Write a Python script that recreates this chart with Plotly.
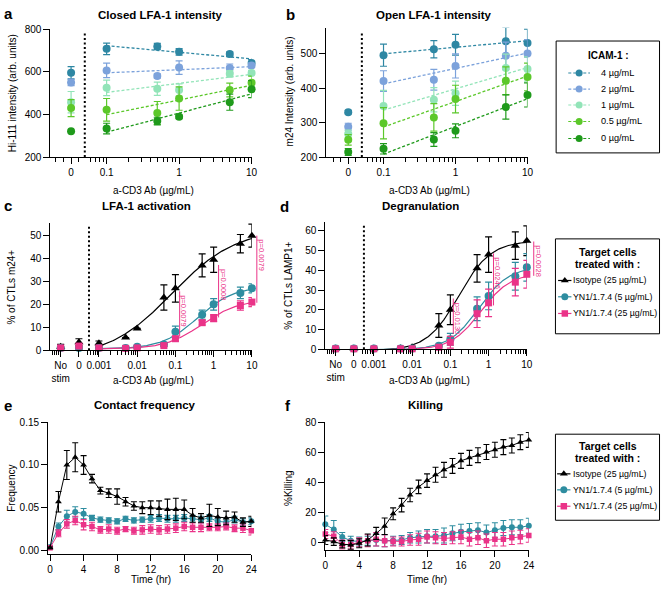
import numpy as np
import plotly.graph_objects as go

W, H = 667, 593
FONT = "Liberation Sans, Arial, Helvetica, sans-serif"

# ---------------- data : panels a / b ----------------
icam_labels = ["4 µg/mL", "2 µg/mL", "1 µg/mL", "0.5 µg/mL", "0 µg/mL"]
icam_colors = ["#2E87A3", "#7CA2DB", "#92E4B8", "#5CC82A", "#1F9A1B"]
conc_ab = [0, 0.1, 0.5, 1, 5, 10]

closed_4 = [596, 708, 719, 694, 684, 642]
closed_2 = [550, 607, 581, 620, 618, 630]
closed_1 = [458, 525, 521, 515, 591, 595]
closed_05 = [430, 422, 407, 475, 515, 549]
closed_0 = [321, 334, 369, 389, 458, 519]
closed_4_err = [29, 27, 15, 15, 10, 15]
closed_2_err = [15, 34, 10, 32, 19, 12]
closed_1_err = [50, 36, 31, 29, 15, 12]
closed_05_err = [40, 53, 54, 55, 32, 31]
closed_0_err = [0, 25, 18, 8, 38, 40]

open_4 = [330, 495, 512, 525, 535, 530]
open_2 = [288, 420, 424, 464, 493, 500]
open_1 = [268, 348, 366, 385, 458, 455]
open_05 = [250, 298, 315, 368, 421, 432]
open_0 = [215, 224, 251, 276, 345, 380]
open_4_err = [5, 32, 25, 30, 40, 40]
open_2_err = [10, 30, 30, 35, 40, 40]
open_1_err = [10, 45, 35, 35, 40, 35]
open_05_err = [15, 45, 40, 40, 40, 40]
open_0_err = [10, 15, 20, 20, 35, 35]

# ---------------- data : panels c / d ----------------
target_labels = ["Isotype (25 µg/mL)", "YN1/1.7.4 (5 µg/mL)", "YN1/1.7.4 (25 µg/mL)"]
target_colors = ["#000000", "#2E8DA0", "#EA3388"]
target_symbols = ["triangle-up", "circle", "square"]
conc_cd = ["No stim", 0, 0.001, 0.005, 0.01, 0.05, 0.1, 0.5, 1, 5, 10]

act_iso = [1.5, 3.5, 3, 5.5, 9.5, 23, 27, 37, 39.5, 46.5, 50]
act_iso_err = [1, 1.5, 1, 0, 0, 5.5, 6, 5, 5.5, 4, 5]
act_yn5 = [1, 1, 1, 1, 1.5, 2.5, 8, 15.5, 20, 25, 27]
act_yn5_err = [0.5, 0.5, 0.5, 0.5, 0.5, 0.8, 2.5, 2, 2.5, 2.5, 2]
act_yn25 = [1, 1.8, 1, 0.8, 1, 2, 5, 12, 14, 19.5, 21]
act_yn25_err = [0.5, 0.5, 0.5, 0.5, 0.5, 0.5, 1, 1, 1.5, 2, 2]

deg_iso = [0.3, 0.3, 0.3, 0.5, 1, 12, 20, 41, 48, 52.5, 55]
deg_iso_err = [0.3, 0.3, 0.3, 0.3, 0.5, 6, 7.5, 7, 9, 7, 7.5]
deg_yn5 = [0.3, 0.3, 0.3, 0.3, 0.3, 1.7, 5, 20.5, 27, 37, 41.5]
deg_yn5_err = [0.2, 0.2, 0.2, 0.2, 0.2, 0.5, 3, 6, 7, 7, 7]
deg_yn25 = [0.2, 0.2, 0.2, 0.2, 0.2, 1, 3.5, 18, 23.5, 34, 38]
deg_yn25_err = [0.2, 0.2, 0.2, 0.2, 0.2, 0.5, 3, 7, 7, 7, 7]

# p-values: (concentration, upper value, lower value, text)
act_pvals = [(0.1, 25.7, 5.9, "p=0.0079"), (1, 37.2, 14.3, "p=0.0008"), (10, 50, 20.7, "p=0.0079")]
deg_pvals = [(0.1, 25.7, 7.8, "p=0.0130"), (1, 48.6, 22.2, "p=0.0246"), (10, 54.6, 37.2, "p=0.0028")]

# ---------------- data : panels e / f ----------------
time_hr = list(range(25))
freq_iso = [0.003, 0.057, 0.100, 0.109, 0.100, 0.084, 0.070, 0.067, 0.063, 0.057, 0.052, 0.050, 0.050,
            0.049, 0.048, 0.048, 0.048, 0.041, 0.038, 0.041, 0.039, 0.038, 0.039, 0.033, 0.034]
freq_iso_err = [0.001, 0.012, 0.017, 0.017, 0.011, 0.005, 0.004, 0.005, 0.009, 0.005, 0.005, 0.007, 0.008,
                0.009, 0.012, 0.013, 0.011, 0.008, 0.005, 0.013, 0.010, 0.008, 0.006, 0.005, 0.006]
freq_yn5 = [0.004, 0.028, 0.040, 0.045, 0.043, 0.038, 0.036, 0.035, 0.034, 0.037, 0.035, 0.036, 0.037,
            0.038, 0.037, 0.037, 0.038, 0.037, 0.036, 0.038, 0.034, 0.033, 0.036, 0.033, 0.034]
freq_yn5_err = [0.001, 0.004, 0.007, 0.006, 0.006, 0.003, 0.003, 0.003, 0.003, 0.003, 0.003, 0.003, 0.004,
                0.004, 0.004, 0.004, 0.004, 0.004, 0.004, 0.004, 0.004, 0.004, 0.004, 0.004, 0.004]
freq_yn25 = [0.003, 0.020, 0.031, 0.035, 0.030, 0.028, 0.024, 0.025, 0.023, 0.025, 0.023, 0.024, 0.025,
             0.024, 0.025, 0.026, 0.028, 0.027, 0.027, 0.027, 0.027, 0.028, 0.026, 0.026, 0.023]
freq_yn25_err = [0.001, 0.004, 0.005, 0.005, 0.006, 0.005, 0.004, 0.005, 0.004, 0.003, 0.004, 0.005, 0.005,
                 0.005, 0.005, 0.005, 0.005, 0.005, 0.005, 0.004, 0.004, 0.004, 0.004, 0.005, 0.005]

kill_iso = [1.5, 0.4, -1.3, -1.8, -0.7, 1.5, 5.9, 10.7, 19, 24.8, 31.6, 37, 41.2,
            45.1, 48.4, 51, 54.4, 56.4, 58.2, 60.3, 61.8, 63.6, 64.7, 66.9, 68.4]
kill_iso_err = [3, 2.5, 2.5, 3, 3, 4, 4, 5.5, 4, 4.5, 4.5, 4.5, 4.5, 5, 5, 5, 5, 5, 5, 5, 5, 5, 5, 5, 5]
kill_yn5 = [12, 8.5, 3.5, 1, 0.5, 1, 1.5, 1, 1, 1.5, 3, 3.5, 4, 4, 4.5, 6, 7, 7.5, 8, 6.5, 8, 9.5, 10, 10, 11]
kill_yn5_err = [5.5, 6, 3, 3, 3, 3, 4, 4, 3, 3, 3.5, 4, 4.5, 4.5, 5, 5, 5, 5, 5, 5, 5, 5, 5, 5, 5]
kill_yn25 = [5.5, 4, -1.5, -1.5, 0, 1, 2, 1, 0.5, 0.5, 1.5, 2, 3.5, 3, 2.5, 3, 3.5, 2, 3, 1, 2, 2, 3, 3.5, 4.5]
kill_yn25_err = [3, 3, 3, 3, 3, 4, 4.5, 4, 3, 3, 3.5, 4, 4, 4, 4, 4, 4.5, 4.5, 4.5, 4.5, 4.5, 4.5, 4.5, 4.5, 4.5]

# ---------------- layout geometry (pixels) ----------------
PANELS = {
    'a': dict(n='', px=(48, 252), py=(155, 24.7), xr=(-1.776, 1.0), yr=(200, 800)),
    'b': dict(n='2', px=(327.7, 531.7), py=(155, 23.3), xr=(-1.795, 1.0), yr=(200, 574)),
    'c': dict(n='3', px=(48, 252.3), py=(351.7, 221.7), xr=(-4.27, 1.0), yr=(0, 55.7)),
    'd': dict(n='4', px=(326.7, 531), py=(350.7, 220.7), xr=(-4.27, 1.0), yr=(0, 64.7)),
    'e': dict(n='5', px=(45.7, 251.7), py=(559.5, 425), xr=(-0.235, 24), yr=(-0.0044, 0.1502)),
    'f': dict(n='6', px=(326.7, 533), py=(555, 425), xr=(0, 24), yr=(-5, 80.3)),
}
ZERO_AB = -1.49                # where the "0" column sits on the a/b log axes
DOT_AB = np.log10(0.05)        # dotted separator a/b
NOSTIM_CD = -4.0
ZERO_CD = np.log10(0.0003)
DOT_CD = -3.26


def pos_ab(c):
    return ZERO_AB if c == 0 else np.log10(c)


def pos_cd(c):
    if c == "No stim":
        return NOSTIM_CD
    return ZERO_CD if c == 0 else np.log10(c)


def xpaper(p, xv):
    g = PANELS[p]
    x0, x1 = g['px']; r0, r1 = g['xr']
    return (x0 + (xv - r0) / (r1 - r0) * (x1 - x0)) / W


def ypaper(p, yv):
    g = PANELS[p]
    yb, yt = g['py']; r0, r1 = g['yr']
    return 1 - (yb + (yv - r0) / (r1 - r0) * (yt - yb)) / H


def fit_4pl(conc, y):
    x = np.log10(np.asarray(conc, float)); y = np.asarray(y, float)
    best = (np.inf, None)
    les = np.arange(-3.0, 1.5, 0.005)
    for h in np.arange(0.3, 3.0, 0.01):
        F = 1.0 / (1.0 + 10 ** ((les[:, None] - x[None, :]) * h))
        G = 1 - F
        A11 = (G * G).sum(1); A12 = (G * F).sum(1); A22 = (F * F).sum(1)
        r1 = (G * y).sum(1); r2 = (F * y).sum(1)
        det = A11 * A22 - A12 ** 2 + 1e-12
        b = (r1 * A22 - r2 * A12) / det
        t = (A11 * r2 - A12 * r1) / det
        pred = b[:, None] * G + t[:, None] * F
        sse = ((pred - y) ** 2).sum(1)
        i = int(np.argmin(sse))
        if sse[i] < best[0]:
            best = (sse[i], (b[i], t[i], les[i], h))
    return best[1]


fig = go.Figure()


def ax(p):
    n = PANELS[p]['n']
    return 'x' + n, 'y' + n


# ---- panels a, b ----
for p, series, errs in [
    ('a', [closed_4, closed_2, closed_1, closed_05, closed_0],
     [closed_4_err, closed_2_err, closed_1_err, closed_05_err, closed_0_err]),
    ('b', [open_4, open_2, open_1, open_05, open_0],
     [open_4_err, open_2_err, open_1_err, open_05_err, open_0_err]),
]:
    xa, ya = ax(p)
    xs = [pos_ab(c) for c in conc_ab]
    for vals, col in zip(series, icam_colors):
        lx = np.log10([c for c in conc_ab if c > 0])
        vv = [v for c, v in zip(conc_ab, vals) if c > 0]
        k, b0 = np.polyfit(lx, vv, 1)
        fx = np.array([-1.0, 1.0])
        fig.add_trace(go.Scatter(x=fx, y=k * fx + b0, mode='lines', xaxis=xa, yaxis=ya,
                                 line=dict(color=col, width=1.3, dash='3px,2px'),
                                 showlegend=False, hoverinfo='skip'))
    for vals, err, col in zip(series, errs, icam_colors):
        fig.add_trace(go.Scatter(x=xs, y=vals, mode='markers', xaxis=xa, yaxis=ya, cliponaxis=False,
                                 marker=dict(color=col, size=8, symbol='circle'),
                                 error_y=dict(type='data', array=err, color=col, thickness=1.2, width=3.5),
                                 showlegend=False))

# ---- panels c, d ----
for p, series, errs in [
    ('c', [act_iso, act_yn5, act_yn25], [act_iso_err, act_yn5_err, act_yn25_err]),
    ('d', [deg_iso, deg_yn5, deg_yn25], [deg_iso_err, deg_yn5_err, deg_yn25_err]),
]:
    xa, ya = ax(p)
    xs = [pos_cd(c) for c in conc_cd]
    for vals, col in zip(series, target_colors):
        cc = [c for c in conc_cd if c not in ("No stim", 0)]
        vv = [v for c, v in zip(conc_cd, vals) if c not in ("No stim", 0)]
        bb, tt, le, hh = fit_4pl(cc, vv)
        gx = np.linspace(-3, 1, 200)
        gy = bb + (tt - bb) / (1 + 10 ** ((le - gx) * hh))
        fig.add_trace(go.Scatter(x=gx, y=gy, mode='lines', xaxis=xa, yaxis=ya,
                                 line=dict(color=col, width=1.2), showlegend=False, hoverinfo='skip'))
    for vals, err, col, sym in zip(series, errs, target_colors, target_symbols):
        fig.add_trace(go.Scatter(x=xs, y=vals, mode='markers', xaxis=xa, yaxis=ya, cliponaxis=False,
                                 marker=dict(color=col, size=8 if sym != 'square' else 7, symbol=sym),
                                 error_y=dict(type='data', array=err, color=col, thickness=1.2, width=3.5),
                                 showlegend=False))

# ---- panels e, f ----
for p, series, errs in [
    ('e', [freq_iso, freq_yn5, freq_yn25], [freq_iso_err, freq_yn5_err, freq_yn25_err]),
    ('f', [kill_iso, kill_yn5, kill_yn25], [kill_iso_err, kill_yn5_err, kill_yn25_err]),
]:
    xa, ya = ax(p)
    order = [1, 2, 0]
    for i in order:
        col, sym = target_colors[i], target_symbols[i]
        fig.add_trace(go.Scatter(x=time_hr, y=series[i], mode='lines+markers', xaxis=xa, yaxis=ya,
                                 cliponaxis=False, line=dict(color=col, width=1),
                                 marker=dict(color=col, size=6 if sym != 'square' else 5.5, symbol=sym),
                                 error_y=dict(type='data', array=errs[i], color=col, thickness=1.1, width=3),
                                 showlegend=False))

# ---------------- axes ----------------
def base_axis(**kw):
    d = dict(showline=True, linecolor='black', linewidth=1, ticks='outside', ticklen=6, tickwidth=1,
             tickcolor='black', showgrid=False, zeroline=False, fixedrange=True,
             tickfont=dict(family=FONT, size=10, color='black'))
    d.update(kw)
    return d

minor_ab = [-1.70, -1.60, -1.385] + [np.log10(v) for v in [0.06, 0.07, 0.08, 0.09]] + \
           [np.log10(k * 10.0 ** d) for d in (-1, 0) for k in range(2, 10)]
minor_cd = [np.log10(v) for v in [6e-5, 7e-5, 8e-5, 9e-5, 5e-4, 6e-4, 7e-4, 8e-4, 9e-4]] + \
           [np.log10(k * 10.0 ** d) for d in (-3, -2, -1, 0) for k in range(2, 10)]

xticks = {
    'a': dict(tickmode='array', tickvals=[ZERO_AB, -1, 0, 1], ticktext=['0', '0.1', '1', '10'],
              minor=dict(tickmode='array', tickvals=minor_ab, ticklen=3.5, ticks='outside', tickcolor='black', tickwidth=1)),
    'c': dict(tickmode='array', tickvals=[NOSTIM_CD, ZERO_CD, -3, -2, -1, 0, 1],
              ticktext=['No<br>stim', '0', '0.001', '0.01', '0.1', '1', '10'],
              minor=dict(tickmode='array', tickvals=minor_cd, ticklen=3.5, ticks='outside', tickcolor='black', tickwidth=1)),
    'e': dict(tickmode='array', tickvals=list(range(0, 25, 4))),
}
xticks['b'] = xticks['a']; xticks['d'] = xticks['c']; xticks['f'] = xticks['e']
yticks = {
    'a': dict(tickmode='array', tickvals=[200, 400, 600, 800]),
    'b': dict(tickmode='array', tickvals=[200, 300, 400, 500]),
    'c': dict(tickmode='array', tickvals=[0, 10, 20, 30, 40, 50]),
    'd': dict(tickmode='array', tickvals=[0, 10, 20, 30, 40, 50, 60]),
    'e': dict(tickmode='array', tickvals=[0, 0.05, 0.10, 0.15], ticktext=['0.00', '0.05', '0.10', '0.15']),
    'f': dict(tickmode='array', tickvals=[0, 20, 40, 60, 80]),
}

layout_axes = {}
for p, g in PANELS.items():
    n = g['n']
    layout_axes['xaxis' + n] = base_axis(domain=[g['px'][0] / W, g['px'][1] / W], range=list(g['xr']),
                                         anchor='y' + n, **xticks[p])
    layout_axes['yaxis' + n] = base_axis(domain=[1 - g['py'][0] / H, 1 - g['py'][1] / H], range=list(g['yr']),
                                         anchor='x' + n, **yticks[p])
# overlay axes for legend keys (pixel space)
layout_axes['xaxis7'] = dict(domain=[0, 1], range=[0, W], visible=False, fixedrange=True)
layout_axes['yaxis7'] = dict(domain=[0, 1], range=[H, 0], visible=False, fixedrange=True)

fig.update_layout(width=W, height=H, margin=dict(l=0, r=0, t=0, b=0), paper_bgcolor='white',
                  plot_bgcolor='rgba(0,0,0,0)', showlegend=False, **layout_axes)

# ---------------- dotted separators ----------------
for p, xv in [('a', DOT_AB), ('b', DOT_AB), ('c', DOT_CD), ('d', DOT_CD)]:
    xa, ya = ax(p)
    fig.add_shape(type='line', xref=xa, yref=ya + ' domain', x0=xv, x1=xv, y0=0, y1=0.97,
                  line=dict(color='black', width=2, dash='2px,2.5px'))

# ---------------- p-value brackets ----------------
PINK = target_colors[2]
for p, plist, offs in [('c', act_pvals, [4.3, 5, 5]), ('d', deg_pvals, [3, 5, 7])]:
    dx_per_px = (PANELS[p]['xr'][1] - PANELS[p]['xr'][0]) / (PANELS[p]['px'][1] - PANELS[p]['px'][0])
    for (cval, ytop, ybot, lab), o in zip(plist, offs):
        xv = np.log10(cval) + o * dx_per_px
        xp = xpaper(p, xv)
        ypt = ypaper(p, ytop)
        ypb = ypaper(p, ybot)
        fig.add_shape(type='line', xref='paper', yref='paper', x0=xp, x1=xp, y0=ypb, y1=ypt,
                      line=dict(color=PINK, width=1))
        fig.add_annotation(x=xp + 4.5 / W, y=ypt - 2 / H, xref='paper', yref='paper', text=lab, showarrow=False,
                           textangle=90, xanchor='center', yanchor='top',
                           font=dict(family=FONT, size=7.5, color=PINK))


# ---------------- text ----------------
def txt(x, y, s, size=10, bold=False, xanchor='center', yanchor='middle', angle=0, color='black'):
    fig.add_annotation(x=x / W, y=1 - y / H, xref='paper', yref='paper', text=('<b>%s</b>' % s) if bold else s,
                       showarrow=False, font=dict(family=FONT, size=size, color=color),
                       xanchor=xanchor, yanchor=yanchor, textangle=angle)

# panel letters
for s, x, y in [('a', 6, 9), ('b', 291, 10), ('c', 5, 204), ('d', 285, 205), ('e', 5, 408), ('f', 289, 408)]:
    txt(x, y, s, size=15, bold=True)
# panel titles
txt(160, 10, 'Closed LFA-1 intensity', 11.5, True)
txt(437, 10, 'Open LFA-1 intensity', 11.5, True)
txt(145, 205, 'LFA-1 activation', 11.5, True)
txt(423, 205, 'Degranulation', 11.5, True)
txt(144, 408, 'Contact frequency', 11.5, True)
txt(428, 408, 'Killing', 11.5, True)
# axis titles
txt(9, 90, 'Hi-111 intensity (arb. units)', 10, angle=-90)
txt(290, 88, 'm24 Intensity (arb. units)', 10, angle=-90)
txt(9, 287, '% of CTLs m24+', 10, angle=-90)
txt(290, 286, '% of CTLs LAMP1+', 10, angle=-90)
txt(9, 492, 'Frequency', 10, angle=-90)
txt(290, 492, '%Killing', 10, angle=-90)
txt(153, 189, 'a-CD3 Ab (µg/mL)', 10)
txt(432, 189, 'a-CD3 Ab (µg/mL)', 10)
txt(153, 383, 'a-CD3 Ab (µg/mL)', 10)
txt(432, 383, 'a-CD3 Ab (µg/mL)', 10)
txt(150, 585, 'Time (hr)', 10)
txt(430, 585, 'Time (hr)', 10)

# ---------------- legends (drawn in pixel space) ----------------
def box(x0, y0, x1, y1):
    fig.add_shape(type='rect', xref='paper', yref='paper', x0=x0 / W, x1=x1 / W, y0=1 - y1 / H, y1=1 - y0 / H,
                  line=dict(color='black', width=1), fillcolor='white', layer='below')

box(560.7, 36.7, 665.5, 150.7)
txt(614, 51, 'ICAM-1 :', 10, True)
for lab, col, yy in zip(icam_labels, icam_colors, [69.3, 85.7, 101.9, 118.7, 136]):
    fig.add_trace(go.Scatter(x=[573, 595], y=[yy, yy], mode='lines', xaxis='x7', yaxis='y7',
                             line=dict(color=col, width=1.2, dash='3px,2px'), showlegend=False, hoverinfo='skip'))
    fig.add_trace(go.Scatter(x=[584], y=[yy], mode='markers', xaxis='x7', yaxis='y7', cliponaxis=False,
                             marker=dict(color=col, size=7), showlegend=False, hoverinfo='skip'))
    txt(604, yy, lab, 9.2, xanchor='left')

for (bx0, by0, bx1, by1), ty1, ty2, ys, lx0 in [((560, 238.3, 665.5, 335), 252, 263.5, [280.7, 297.3, 314.3], 562.7),
                                                  ((560, 437.3, 665.5, 525), 449.5, 462, [477.7, 494, 510.7], 561.7)]:
    box(bx0, by0, bx1, by1)
    txt(613, ty1, 'Target cells', 10.5, True)
    txt(613, ty2, 'treated with :', 10.5, True)
    for lab, col, sym, yy in zip(target_labels, target_colors, target_symbols, ys):
        fig.add_trace(go.Scatter(x=[lx0, lx0 + 13.5], y=[yy, yy], mode='lines', xaxis='x7', yaxis='y7',
                                 line=dict(color=col, width=1.2), showlegend=False, hoverinfo='skip'))
        fig.add_trace(go.Scatter(x=[lx0 + 6.8], y=[yy], mode='markers', xaxis='x7', yaxis='y7', cliponaxis=False,
                                 marker=dict(color=col, size=7 if sym != 'square' else 6.5, symbol=sym),
                                 showlegend=False, hoverinfo='skip'))
        txt(576, yy, lab, 8.8, xanchor='left')

fig.write_html("out.html", config={'displayModeBar': False},
               post_script="document.body.style.margin='0';document.body.style.overflow='hidden';")
